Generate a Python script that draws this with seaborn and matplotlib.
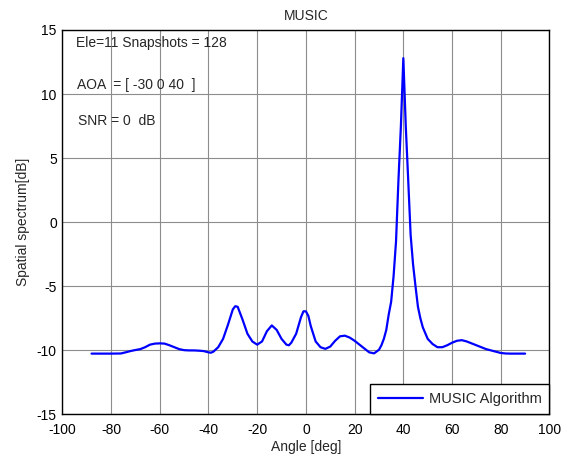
import pandas as pd
import matplotlib
matplotlib.use('Agg')
import matplotlib.pyplot as plt
import seaborn as sns

# spectrum values
angle = [-88, -84, -80, -76, -74, -72, -70, -68, -66, -64, -62, -60, -58, -56, -54, -52,
         -50, -48, -46, -44, -42, -40, -39, -38, -36, -34, -32, -30, -29, -28, -26, -24,
         -22, -20, -18, -16, -14, -12, -10, -8, -7, -6, -4, -2, -1, 0, 1, 2, 4, 6, 8,
         10, 12, 14, 16, 18, 20, 22, 24, 26, 28, 30, 31, 32, 33, 34, 35, 36, 37, 38, 39,
         40, 41, 42, 43, 44, 45, 46, 47, 48, 50, 52, 54, 56, 58, 60, 62, 64, 66, 68, 70,
         72, 74, 76, 78, 80, 82, 84, 86, 88, 90]
spectrum = [-10.25, -10.25, -10.25, -10.24, -10.15, -10.05, -9.97, -9.9, -9.75, -9.55,
            -9.47, -9.45, -9.47, -9.6, -9.75, -9.9, -9.98, -10.0, -10.0, -10.02, -10.05,
            -10.15, -10.18, -10.1, -9.75, -9.1, -8.0, -6.8, -6.55, -6.6, -7.6, -8.7, -9.3,
            -9.55, -9.3, -8.5, -8.05, -8.4, -9.1, -9.55, -9.6, -9.4, -8.7, -7.4, -6.95,
            -6.95, -7.3, -8.1, -9.3, -9.75, -9.88, -9.7, -9.25, -8.9, -8.85, -9.0, -9.25,
            -9.55, -9.85, -10.15, -10.23, -9.95, -9.6, -9.1, -8.4, -7.2, -6.2, -4.2, -1.5,
            3.3, 7.5, 12.8, 7.5, 3.3, -1.0, -3.3, -5.0, -6.6, -7.5, -8.2, -9.1, -9.5,
            -9.75, -9.75, -9.6, -9.4, -9.25, -9.2, -9.3, -9.45, -9.6, -9.75, -9.9, -10.0,
            -10.1, -10.2, -10.24, -10.25, -10.25, -10.25, -10.25]

x_ticks = list(range(-100, 101, 20))
y_ticks = list(range(-15, 16, 5))

df = pd.DataFrame({'Angle': angle, 'Spectrum': spectrum})

sns.set_style('white')
plt.rcParams['font.family'] = ['Liberation Sans', 'DejaVu Sans']
plt.rcParams['font.size'] = 10
plt.rcParams['axes.unicode_minus'] = False

fig = plt.figure(figsize=(5.68, 4.57), dpi=100)
ax = fig.add_axes([0.1097, 0.093, 0.8577, 0.8414])

sns.lineplot(data=df, x='Angle', y='Spectrum', color='#0000ff', linewidth=1.6,
             label='MUSIC Algorithm', ax=ax)

ax.set_xlim(-100, 100)
ax.set_ylim(-15, 15)
ax.set_xticks(x_ticks)
ax.set_yticks(y_ticks)
ax.grid(True, color='#8c8c8c', linewidth=0.8)
ax.tick_params(direction='in', length=4, colors='black', labelsize=10)
ax.tick_params(axis='x', pad=6)
ax.tick_params(axis='y', pad=4)
for s in ax.spines.values():
    s.set_color('black')
    s.set_linewidth(1)

ax.set_title('MUSIC', fontsize=10, pad=7)
ax.set_xlabel('Angle [deg]', fontsize=10, labelpad=2)
ax.set_ylabel('Spatial spectrum[dB]', fontsize=10, labelpad=5)

ax.text(-94.5, 14.0, 'Ele=11 Snapshots = 128', fontsize=10, va='center')
ax.text(-94.1, 10.7, 'AOA  = [ -30 0 40  ]', fontsize=10, va='center')
ax.text(-93.4, 7.9, 'SNR = 0  dB', fontsize=10, va='center')

leg = ax.legend(loc='lower right', fontsize=10.5, fancybox=False, framealpha=1,
                edgecolor='black', borderaxespad=0, handlelength=3.1,
                handletextpad=0.4, borderpad=0.55)
leg.get_frame().set_linewidth(1)

fig.savefig('out.png', dpi=100)
